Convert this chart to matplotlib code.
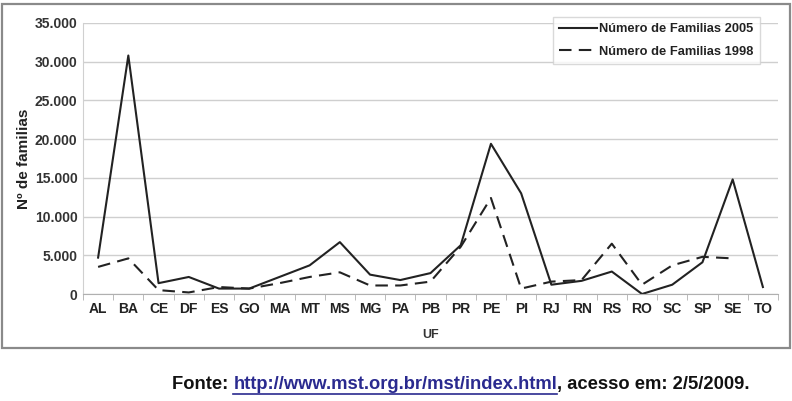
import numpy as np
import matplotlib
matplotlib.use("Agg")
import matplotlib.pyplot as plt
from matplotlib.patches import Rectangle
from matplotlib.ticker import FuncFormatter

plt.rcParams['font.family'] = ['Liberation Sans', 'DejaVu Sans']

# dados
ufs = ['AL', 'BA', 'CE', 'DF', 'ES', 'GO', 'MA', 'MT', 'MS', 'MG', 'PA', 'PB',
       'PR', 'PE', 'PI', 'RJ', 'RN', 'RS', 'RO', 'SC', 'SP', 'SE', 'TO']
familias_2005 = [4700, 30800, 1400, 2200, 700, 700, 2200, 3700, 6700, 2500, 1800, 2700,
                 6300, 19400, 13000, 1200, 1700, 2900, 0, 1200, 4100, 14800, 900]
familias_1998 = [3500, 4600, 500, 200, 900, 700, 1400, 2200, 2800, 1100, 1100, 1600,
                 6100, 12400, 700, 1600, 1800, 6500, 1200, 3700, 4800, 4600, np.nan]

fig = plt.figure(figsize=(7.92, 4.01), dpi=100)

# moldura do grafico
frame = Rectangle((2 / 792, 1 - 348 / 401), 788 / 792, 344 / 401, transform=fig.transFigure,
                  fill=False, edgecolor='#8a8a8a', linewidth=1.6)
fig.patches.append(frame)

ax = fig.add_axes([83 / 792, 1 - 294 / 401, 695 / 792, 271 / 401])
x = np.arange(len(ufs))
ax.plot(x, familias_2005, color='#222222', linewidth=1.5, label='Número de Familias 2005')
ax.plot(x, familias_1998, color='#222222', linewidth=1.5, dashes=(6, 3.5),
        label='Número de Familias 1998')

ax.set_xlim(-0.5, len(ufs) - 0.5)
ax.set_ylim(0, 35000)
ax.set_yticks(np.arange(0, 35001, 5000))
ax.yaxis.set_major_formatter(FuncFormatter(lambda v, p: '0' if v == 0 else f'{int(v):,}'.replace(',', '.')))
ax.set_xticks(x)
ax.set_xticklabels(ufs)
ax.set_xticks(np.arange(-0.5, len(ufs), 1), minor=True)
ax.grid(axis='y', color='#cfcfcf', linewidth=1)
ax.set_axisbelow(True)
for s in ['top', 'right']:
    ax.spines[s].set_visible(False)
ax.spines['left'].set_color('#d0d0d0')
ax.spines['bottom'].set_color('#b0b0b0')
ax.tick_params(axis='x', which='major', length=0, pad=6, labelsize=10, colors='#222222')
ax.tick_params(axis='x', which='minor', length=4, color='#b0b0b0', direction='out')
ax.tick_params(axis='y', length=0, pad=4, labelsize=10, colors='#333333')
for t in ax.get_xticklabels() + ax.get_yticklabels():
    t.set_fontweight('bold')

ax.set_xlabel('UF', fontsize=9, fontweight='bold', color='#333333', labelpad=9)
ax.set_ylabel('Nº de familias', fontsize=11, fontweight='bold', color='#222222', labelpad=3)

leg = ax.legend(loc='upper right', bbox_to_anchor=(760 / 792, 1 - 17 / 401),
                bbox_transform=fig.transFigure, fontsize=9.3, frameon=True, fancybox=False,
                handlelength=2.9, handletextpad=0.2, borderpad=0.5, labelspacing=0.8,
                borderaxespad=0)
leg.get_frame().set_edgecolor('#d0d0d0')
leg.get_frame().set_linewidth(1)
for t in leg.get_texts():
    t.set_fontweight('bold')
    t.set_color('#222222')

# fonte
fs = 13.2
y_fonte = 1 - 389 / 401
fig.canvas.draw()
r = fig.canvas.get_renderer()
t1 = fig.text(172 / 792, y_fonte, 'Fonte: ', fontsize=fs, fontweight='bold', color='#111111')
bb = t1.get_window_extent(r)
t2 = fig.text(bb.x1 / 792, y_fonte, 'http://www.mst.org.br/mst/index.html', fontsize=fs,
              fontweight='bold', color='#2a2a8f')
bb2 = t2.get_window_extent(r)
t3 = fig.text(bb2.x1 / 792, y_fonte, ', acesso em: 2/5/2009.', fontsize=fs,
              fontweight='bold', color='#111111')
fig.add_artist(plt.Line2D([bb2.x0 / 792, bb2.x1 / 792], [(bb2.y0 - 1) / 401] * 2,
                          color='#2a2a8f', linewidth=1.2, transform=fig.transFigure))

fig.savefig('out.png', dpi=100)
